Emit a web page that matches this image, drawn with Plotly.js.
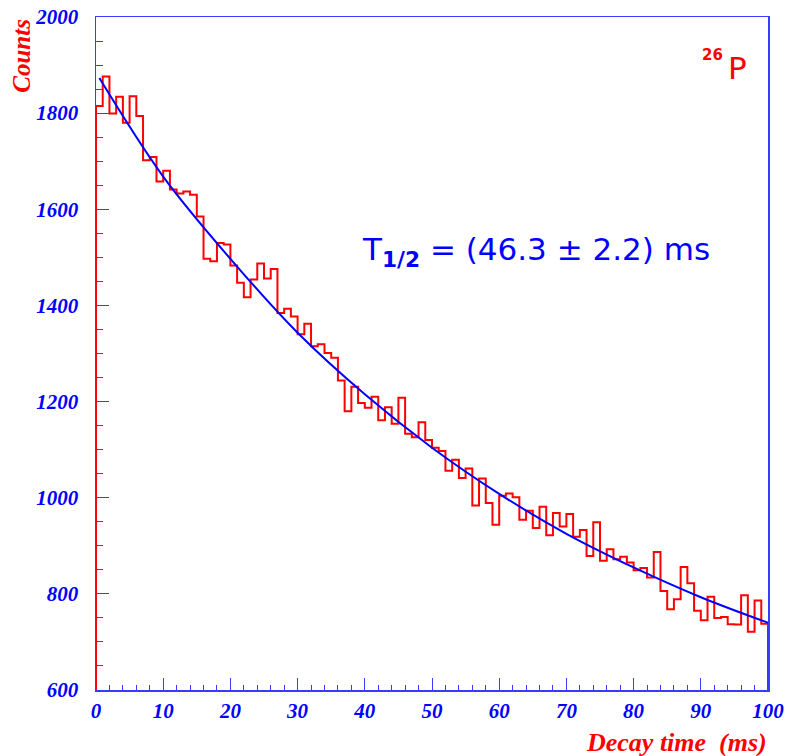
<!DOCTYPE html>
<html>
<head>
<meta charset="utf-8">
<script src="https://cdn.plot.ly/plotly-3.0.1.min.js"></script>
<style>html,body{margin:0;padding:0;background:#fff;}#chart{width:788px;height:756px;}</style>
</head>
<body>
<div id="chart"></div>
<script>
// Histogram: left edge of each 1 ms bin (ms) and counts
const binStart = [0,1,2,3,4,5,6,7,8,9,10,11,12,13,14,15,16,17,18,19,20,21,22,23,24,25,26,27,28,29,30,31,32,33,34,35,36,37,38,39,40,41,42,43,44,45,46,47,48,49,50,51,52,53,54,55,56,57,58,59,60,61,62,63,64,65,66,67,68,69,70,71,72,73,74,75,76,77,78,79,80,81,82,83,84,85,86,87,88,89,90,91,92,93,94,95,96,97,98,99];
const counts = [1815,1876,1799,1834,1780,1835,1794,1702,1709,1658,
                1680,1641,1633,1637,1630,1585,1497,1492,1530,1527,
                1483,1447,1417,1454,1487,1456,1476,1384,1393,1377,
                1340,1362,1315,1319,1301,1291,1244,1180,1231,1197,
                1187,1210,1161,1188,1154,1208,1133,1126,1157,1120,
                1104,1097,1056,1079,1041,1061,984,1040,989,944,
                1004,1009,1001,954,973,937,981,922,968,940,
                966,919,933,879,949,869,893,872,877,865,
                849,854,834,887,806,768,789,856,822,765,
                745,794,750,752,737,736,797,721,786,738];
// Fit curve
const fitTime = [0.5,10,20,30,40,50,60,70,80,90,100];
const fitCounts = [1873,1668,1497,1343,1215,1104,1008,925,855,793,740];
// Axes
const xRange = [0,100];
const yRange = [600,2000];
const xTickVals = [0,10,20,30,40,50,60,70,80,90,100];
const yTickVals = [600,800,1000,1200,1400,1600,1800,2000];
const xTitle = 'Decay time\u00a0\u00a0(ms)';
const yTitle = 'Counts';
const halfLifeText = 'T<sub><b>1/2</b></sub> = (46.3 ± 2.2) ms';
const isotopeMass = '26';
const isotopeSymbol = 'P';

// Build step outline
const binWidth = binStart[1]-binStart[0];
const hx = [binStart[0]], hy = [yRange[0]];
for (let i=0;i<counts.length;i++){ hx.push(binStart[i]); hy.push(counts[i]); }
const lastEdge = binStart[binStart.length-1]+binWidth;
hx.push(lastEdge); hy.push(counts[counts.length-1]);
hx.push(lastEdge); hy.push(yRange[0]);

const RED = '#ff0000', BLUE = '#0000ff', AXBLUE = '#3b3bff';
const tickFont = {family:'Liberation Serif', size:21, color:BLUE, weight:'bold', style:'italic'};

const traces = [
  {x:hx, y:hy, type:'scatter', mode:'lines', line:{color:RED, width:2, shape:'hv'}, hoverinfo:'skip', showlegend:false},
  {x:fitTime, y:fitCounts, type:'scatter', mode:'lines', line:{color:BLUE, width:2, shape:'spline', smoothing:1}, hoverinfo:'skip', showlegend:false}
];

const layout = {
  width:788, height:756,
  margin:{l:96, r:20, t:17, b:66, pad:0},
  paper_bgcolor:'#fff', plot_bgcolor:'#fff',
  showlegend:false,
  xaxis:{range:xRange, tickvals:xTickVals, ticks:'inside', ticklen:12, tickwidth:1, tickcolor:AXBLUE,
         minor:{dtick:2, ticks:'inside', ticklen:5, tickcolor:AXBLUE, tickwidth:1},
         showline:true, linecolor:AXBLUE, linewidth:1.5, mirror:true, showgrid:false, zeroline:false,
         tickfont:tickFont, ticklabelstandoff:1, fixedrange:true},
  yaxis:{range:yRange, tickvals:yTickVals, ticks:'inside', ticklen:13, tickwidth:1, tickcolor:AXBLUE,
         minor:{dtick:50, ticks:'inside', ticklen:7, tickcolor:AXBLUE, tickwidth:1},
         showline:true, linecolor:AXBLUE, linewidth:1.5, mirror:true, showgrid:false, zeroline:false,
         tickfont:tickFont, ticklabelstandoff:12, fixedrange:true},
  annotations:[
    {text:yTitle, xref:'paper', yref:'paper', x:-0.112, y:0.942, xanchor:'center', yanchor:'middle', textangle:-90, showarrow:false,
     font:{family:'Liberation Serif', size:25, color:RED, weight:'bold', style:'italic'}},
    {text:xTitle, xref:'paper', yref:'paper', x:1.002, y:-0.078, xanchor:'right', yanchor:'middle', showarrow:false,
     font:{family:'Liberation Serif', size:26, color:RED, weight:'bold', style:'italic'}},
    {text:halfLifeText, xref:'paper', yref:'paper', x:0.6548, y:0.651, xanchor:'center', yanchor:'middle', showarrow:false, font:{family:'DejaVu Sans', size:31, color:BLUE}},
    {text:'<b>'+isotopeMass+'</b>', xref:'paper', yref:'paper', x:0.9167, y:0.943, xanchor:'center', yanchor:'middle', showarrow:false, font:{family:'DejaVu Sans', size:15, color:RED}},
    {text:isotopeSymbol, xref:'paper', yref:'paper', x:0.9546, y:0.924, xanchor:'center', yanchor:'middle', showarrow:false, font:{family:'DejaVu Sans', size:31, color:RED}}
  ]
};
Plotly.newPlot('chart', traces, layout, {displayModeBar:false, staticPlot:true});
</script>
</body>
</html>
